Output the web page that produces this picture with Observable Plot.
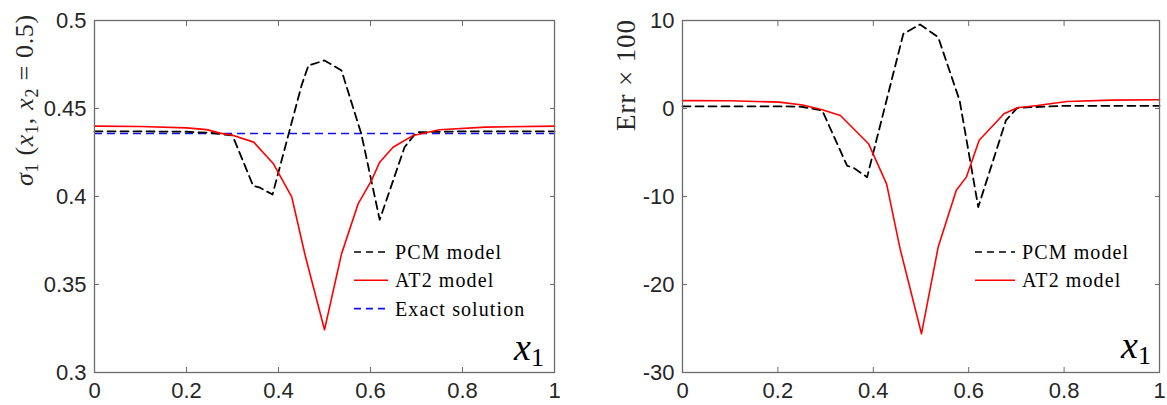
<!DOCTYPE html>
<html><head><meta charset="utf-8">
<script src="https://cdn.jsdelivr.net/npm/d3@7"></script>
<script src="https://cdn.jsdelivr.net/npm/@observablehq/plot@0.6"></script>
<style>
body{margin:0;background:#fff;}
#wrap{position:relative;width:1167px;height:405px;display:flex;}
#wrap > svg{overflow:visible;flex:none;}
#overlay{position:absolute;left:0;top:0;pointer-events:none;overflow:visible;}
</style></head><body>
<div id="wrap"></div>
<script>
// ---- data ----
const xTicks = [0, 0.2, 0.4, 0.6, 0.8, 1];
const sigmaTicks = [0.3, 0.35, 0.4, 0.45, 0.5];
const errTicks = [-30, -20, -10, 0, 10];
const seriesNames = ["PCM model", "AT2 model", "Exact solution"];

const pcmSigmaX = [0, 0.1, 0.2, 0.25, 0.3, 0.345, 0.36, 0.387, 0.45, 0.465, 0.5, 0.537, 0.58, 0.62, 0.674, 0.70, 0.8, 0.9, 1];
const pcmSigmaY = [0.437, 0.437, 0.4368, 0.4362, 0.4347, 0.406, 0.405, 0.4011, 0.463, 0.4744, 0.4773, 0.4716, 0.4356, 0.3868, 0.428, 0.4365, 0.437, 0.437, 0.437];

const at2SigmaX = [0, 0.1, 0.2, 0.244, 0.273, 0.302, 0.346, 0.389, 0.429, 0.458, 0.5, 0.537, 0.573, 0.602, 0.62, 0.649, 0.693, 0.75, 0.85, 1];
const at2SigmaY = [0.44, 0.4398, 0.439, 0.438, 0.436, 0.4347, 0.4309, 0.4186, 0.3996, 0.3665, 0.3243, 0.3674, 0.3958, 0.409, 0.4195, 0.428, 0.4347, 0.4379, 0.4394, 0.44];

const exactSigma = 0.4358;

const pcmErrX = [0, 0.1, 0.2, 0.25, 0.293, 0.345, 0.36, 0.387, 0.463, 0.498, 0.536, 0.581, 0.62, 0.678, 0.702, 0.8, 0.9, 1];
const pcmErrY = [0.25, 0.25, 0.25, 0.2, -0.23, -6.5, -6.8, -7.8, 8.49, 9.55, 8.1, 0.9, -11.2, -1.36, 0.08, 0.3, 0.3, 0.3];

const at2ErrX = [0, 0.1, 0.203, 0.252, 0.293, 0.331, 0.39, 0.428, 0.456, 0.501, 0.536, 0.574, 0.595, 0.622, 0.674, 0.702, 0.744, 0.806, 0.9, 1];
const at2ErrY = [0.9, 0.88, 0.72, 0.4, -0.15, -0.8, -4.0, -8.6, -15.9, -25.6, -15.75, -9.3, -7.8, -3.6, -0.6, 0.08, 0.34, 0.8, 0.95, 0.99];

// ---- styles ----
const axisColor = "#6b6b6b";
const textColor = "#262626";
const pcmColor = "#000000";
const at2Color = "#ff0000";
const exactColor = "#1010f0";
const dash = "8,5";

const pts = (xs, ys) => xs.map((x, i) => ({x, y: ys[i]}));

function panel({width, marginLeft, marginRight, yDomain, yTicks, marks}) {
  return Plot.plot({
    width, height: 405, marginLeft, marginRight, marginTop: 20, marginBottom: 33,
    style: {fontFamily: "'Liberation Sans', Arial, sans-serif", fontSize: "22px", color: textColor, background: "transparent", overflow: "visible"},
    x: {domain: [0, 1]},
    y: {domain: yDomain},
    marks: [
      ...marks,
      Plot.frame({stroke: axisColor, strokeWidth: 1.3}),
      Plot.axisX(xTicks, {anchor: "bottom", tickSize: -5, tickPadding: 15, stroke: axisColor, fill: textColor, tickFormat: d => String(d), label: null}),
      Plot.axisX(xTicks, {anchor: "top", tickSize: -5, stroke: axisColor, fill: "none", label: null}),
      Plot.axisY(yTicks, {anchor: "left", tickSize: -5, tickPadding: 13, stroke: axisColor, fill: textColor, tickFormat: d => String(d), label: null}),
      Plot.axisY(yTicks, {anchor: "right", tickSize: -5, stroke: axisColor, fill: "none", label: null})
    ]
  });
}

const left = panel({
  width: 583, marginLeft: 94, marginRight: 29, yDomain: [0.3, 0.5], yTicks: sigmaTicks,
  marks: [
    Plot.ruleY([exactSigma], {stroke: exactColor, strokeWidth: 1.7, strokeDasharray: dash}),
    Plot.line(pts(pcmSigmaX, pcmSigmaY), {x: "x", y: "y", stroke: pcmColor, strokeWidth: 1.8, strokeDasharray: dash}),
    Plot.line(pts(at2SigmaX, at2SigmaY), {x: "x", y: "y", stroke: at2Color, strokeWidth: 1.6})
  ]
});
const right = panel({
  width: 584, marginLeft: 99, marginRight: 8, yDomain: [-30, 10], yTicks: errTicks,
  marks: [
    Plot.line(pts(pcmErrX, pcmErrY), {x: "x", y: "y", stroke: pcmColor, strokeWidth: 1.8, strokeDasharray: dash}),
    Plot.line(pts(at2ErrX, at2ErrY), {x: "x", y: "y", stroke: at2Color, strokeWidth: 1.6})
  ]
});
const wrap = document.getElementById("wrap");
wrap.appendChild(left);
wrap.appendChild(right);

// ---- annotations overlay (labels & legends) ----
const ov = d3.select(wrap).append("svg").attr("id", "overlay")
  .attr("width", 1167).attr("height", 405);
const serif = "'Liberation Serif', 'Times New Roman', serif";

// left y label
const yl = ov.append("text").attr("transform", "translate(33,100) rotate(-90)")
  .attr("text-anchor", "middle").attr("font-family", serif).attr("font-size", 26).attr("fill", textColor)
  .attr("letter-spacing", 0.7);
yl.append("tspan").attr("font-style", "italic").text("σ");
yl.append("tspan").attr("font-size", 18).attr("dy", 5).text("1");
yl.append("tspan").attr("dy", -5).text(" (");
yl.append("tspan").attr("font-style", "italic").text("x");
yl.append("tspan").attr("font-size", 18).attr("dy", 5).text("1");
yl.append("tspan").attr("dy", -5).text(", ");
yl.append("tspan").attr("font-style", "italic").text("x");
yl.append("tspan").attr("font-size", 18).attr("dy", 5).text("2");
yl.append("tspan").attr("dy", -5).text(" = 0.5)");

// right y label
ov.append("text").attr("transform", "translate(635,75) rotate(-90)")
  .attr("text-anchor", "middle").attr("font-family", serif).attr("font-size", 27).attr("fill", textColor)
  .attr("letter-spacing", 0.9)
  .text("Err × 100");

// x1 labels
function xLabel(x, y) {
  const t = ov.append("text").attr("x", x).attr("y", y).attr("font-family", serif).attr("fill", "#000");
  t.append("tspan").attr("font-style", "italic").attr("font-size", 38).text("x");
  t.append("tspan").attr("font-size", 26).attr("dy", 6).text("1");
}
xLabel(514, 360);
xLabel(1121, 358);

// legends
function legend(x0, y0, n, lineLen) {
  const styles = [
    {stroke: pcmColor, dash: "7,5"},
    {stroke: at2Color, dash: null},
    {stroke: exactColor, dash: "7,5"}
  ];
  for (let i = 0; i < n; i++) {
    const y = y0 + i * 28.3;
    const l = ov.append("line").attr("x1", x0).attr("x2", x0 + lineLen).attr("y1", y).attr("y2", y)
      .attr("stroke", styles[i].stroke).attr("stroke-width", 1.6);
    if (styles[i].dash) l.attr("stroke-dasharray", styles[i].dash);
    ov.append("text").attr("x", x0 + lineLen + 7).attr("y", y).attr("dy", "0.35em")
      .attr("font-family", serif).attr("font-size", 20).attr("letter-spacing", 1.1).attr("fill", "#000")
      .text(seriesNames[i]);
  }
}
legend(354, 252, 3, 34);
legend(975, 252, 2, 40);
</script>
</body></html>
